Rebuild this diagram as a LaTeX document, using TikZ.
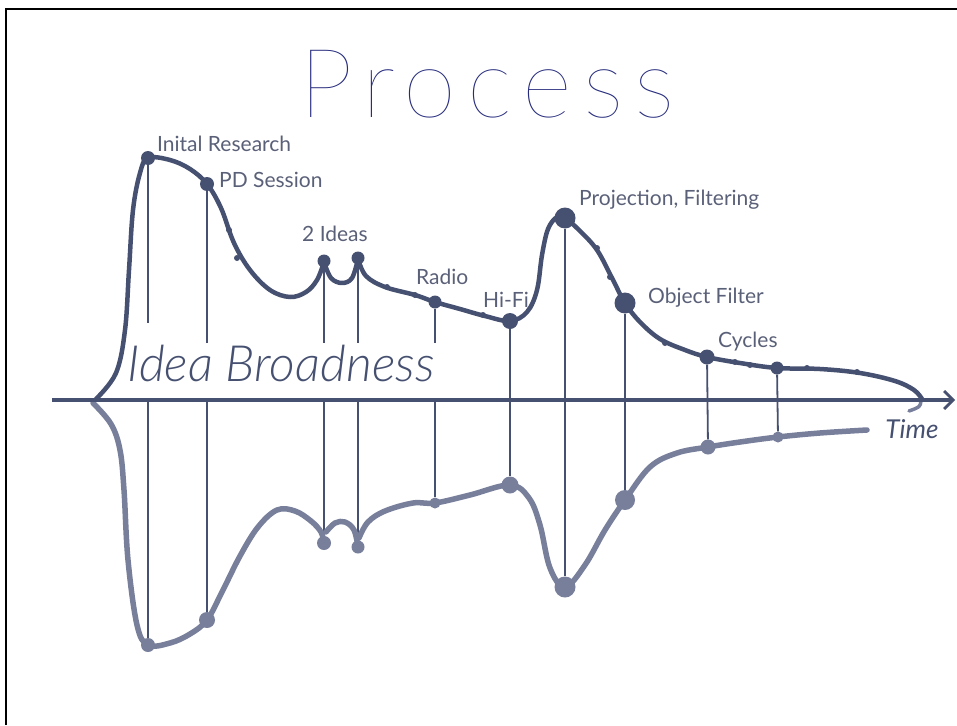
\documentclass[tikz,border=0pt]{standalone}
\usepackage{fontspec}
\setmainfont{Lato}
\IfFontExistsTF{Lato Thin}{\newfontfamily\titlefont{Lato Thin}[LetterSpace=11.5]}{%
	\IfFontExistsTF{Lato Hairline}{\newfontfamily\titlefont{Lato Hairline}[LetterSpace=11.5]}{%
		\newfontfamily\titlefont{Lato}}}
\newfontfamily\labelfont{Lato}
\IfFontExistsTF{Lato Light}{\newfontfamily\handfont{Lato Light}}{\newfontfamily\handfont{Lato}}
\usetikzlibrary{arrows.meta}
\usetikzlibrary{positioning}
\definecolor{curvedark}{HTML}{465070}
\definecolor{curvelight}{HTML}{777F9B}
\definecolor{labelgray}{HTML}{5A6078}
\definecolor{titleblue}{HTML}{262B7C}
\tikzset{
	upper/.style={
		draw=curvedark,
		line width=4.5pt,
		line cap=round,
		line join=round},
	lower/.style={
		draw=curvelight,
		line width=5.5pt,
		line cap=round,
		line join=round},
	dotup/.style={circle, fill=curvedark, inner sep=0pt, minimum size=#1},
	dotup/.default=13pt,
	dotlow/.style={circle, fill=curvelight, inner sep=0pt, minimum size=#1},
	dotlow/.default=13pt,
	tick/.style={circle, fill=curvedark, inner sep=0pt, minimum size=6pt},
	stem/.style={draw=curvedark, line width=1.8pt},
	phase/.style={
		font=\labelfont\fontsize{21}{21}\selectfont,
		text=labelgray,
		inner sep=0pt,
		anchor=west},
	hand/.style={
		font=\handfont\itshape\fontsize{#1}{#1}\selectfont,
		text=curvedark,
		inner sep=0pt}
}

\begin{document}
\begin{tikzpicture}[x=1pt, y=-1pt]
	\useasboundingbox (0,0) rectangle (957,725);
	\draw[line width=2pt] (6,725) -- (6,9) -- (957,9);
	
	\node[font=\titlefont\fontsize{96}{96}\selectfont, text=titleblue] (title) at (487,84) {Process};
	
	% axis
	\coordinate (axL) at (52,400);
	\coordinate (axR) at (955,400);
	\coordinate (ax) at (0,398);
	\coordinate (cut) at (0,343);
	\coordinate (cutA) at (0,323);
	
	% milestones on the upper curve
	\node[dotup=14pt] (u1) at (148,158) {};
	\node[dotup=14pt] (u2) at (207,184) {};
	\node[dotup] (u3) at (324,261) {};
	\node[dotup] (u4) at (358,258) {};
	\node[dotup] (u5) at (435,302) {};
	\node[dotup=16pt] (u6) at (510,321) {};
	\node[dotup=21pt] (u7) at (565,218) {};
	\node[dotup=21pt] (u8) at (625,303) {};
	\node[dotup=15pt] (u9) at (707,357) {};
	\node[dotup] (u10) at (777,368) {};
	
	% milestones on the lower curve
	\node[dotlow=14pt] (l1) at (148,645) {};
	\node[dotlow=16pt] (l2) at (207,620) {};
	\node[dotlow=14pt] (l3) at (324,543) {};
	\node[dotlow] (l4) at (358,547) {};
	\node[dotlow=11pt] (l5) at (435,503) {};
	\node[dotlow=17pt] (l6) at (510,485) {};
	\node[dotlow=21pt] (l7) at (565,587) {};
	\node[dotlow=20pt] (l8) at (625,500) {};
	\node[dotlow=15pt] (l9) at (708,447) {};
	\node[dotlow=11pt] (l10) at (778,437) {};
	
	% stems
	\draw[stem] (u1) -- (u1 |- cutA);
	\draw[stem] (l1 |- ax) -- (l1);
	\draw[stem] (u2) -- (u2 |- cut);
	\draw[stem] (l2 |- ax) -- (l2);
	\draw[stem] (u3) -- (u3 |- cut);
	\draw[stem] (l3 |- ax) -- (l3);
	\draw[stem] (u4) -- (u4 |- cut);
	\draw[stem] (l4 |- ax) -- (l4);
	\draw[stem] (u5) -- (u5 |- cut);
	\draw[stem] (l5 |- ax) -- (l5);
	\draw[stem] (u6) -- (l6);
	\draw[stem] (u7) -- (l7);
	\draw[stem] (u8) -- (l8);
	\draw[stem] (u9) -- (l9);
	\draw[stem] (u10) -- (l10);
	
	% upper curve
	\draw[upper] plot[smooth, tension=0.6] coordinates {(96,399) (116,373) (125,330) (129,270) (133,210) (140,173) (148,158) (170,160) (190,169) (207,184) (221,208) (234,243) (250,270) (270,290) (290,297) (306,292) (317,280) (324,262)};
	\draw[upper] plot[smooth, tension=0.6] coordinates {(324,262) (331,278) (342,283) (352,278) (358,259)};
	\draw[upper] plot[smooth, tension=0.6] coordinates {(358,259) (366,276) (385,287) (415,295) (435,302) (460,309) (485,316) (510,321) (527,312) (537,290) (542,255) (548,229) (557,217) (565,218) (580,231) (597,250) (612,278) (625,303) (640,322) (660,339) (685,350) (707,357) (740,363) (777,368) (820,369) (860,373) (895,381) (914,390) (922,399)};
	
	% lower curve
	\draw[lower] plot[smooth, tension=0.6] coordinates {(93,403) (111,424) (120,450) (124,490) (128,560) (137,625) (148,645) (170,643) (190,634) (207,620) (222,592) (240,556) (258,527) (277,510) (295,511) (311,521) (321,532) (324,543)};
	\draw[lower] plot[smooth, tension=0.6] coordinates {(326,532) (335,523) (345,522) (354,530) (358,547)};
	\draw[lower] plot[smooth, tension=0.6] coordinates {(359,538) (368,522) (385,511) (413,503) (435,503) (470,495) (510,485) (529,498) (540,525) (550,568) (565,587) (585,565) (605,530) (625,500) (650,467) (677,453) (708,447) (740,442) (778,437) (820,433) (867,430)};
	\draw[lower, line width=3.5pt] (921,401) .. controls (920,407) .. (909,411);
	
	% small marks along the upper curve
	\node[tick] (t1) at (229,230) {};
	\node[tick] (t2) at (237,258) {};
	\node[tick] (t3) at (387,287) {};
	\node[tick] (t4) at (415,295) {};
	\node[tick] (t5) at (483,315) {};
	\node[tick] (t6) at (597,248) {};
	\node[tick] (t7) at (610,277) {};
	\node[tick] (t8) at (665,343) {};
	\node[tick] (t9) at (735,362) {};
	\node[tick] (t10) at (750,365) {};
	\node[tick] (t11) at (807,368) {};
	\node[tick] (t12) at (857,372) {};
	
	\draw[draw=curvedark, line width=3.2pt, -{Straight Barb[length=9pt, width=18pt, line width=2.8pt]}] (axL) -- (axR);
	
	% labels
	\node[phase] (n1) at (157,144) {Inital Research};
	\node[phase] (n2) at (219,180) {PD Session};
	\node[phase] (n3) at (302,234) {2 Ideas};
	\node[phase] (n4) at (416,277) {Radio};
	\node[phase] (n5) at (483,300) {Hi-Fi};
	\node[phase] (n6) at (579,200) {Projection, Filtering};
	\node[phase] (n7) at (648,298) {Object Filter};
	\node[phase] (n8) at (718,342) {Cycles};
	
	\node[hand=50] (idea) at (281,364) {Idea Broadness};
	\node[font=\labelfont\itshape\fontsize{26}{26}\selectfont, text=curvedark, inner sep=0pt] (time) at (912,429) {Time};
\end{tikzpicture}
\end{document}
